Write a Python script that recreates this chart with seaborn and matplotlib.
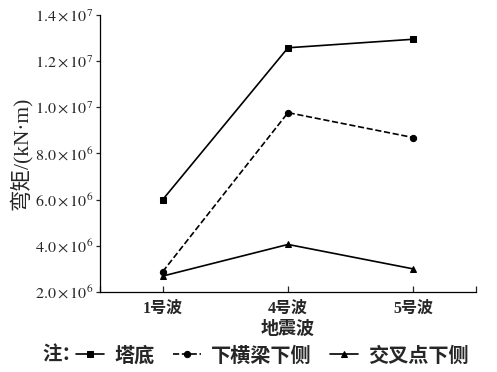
import matplotlib
matplotlib.use("Agg")
import matplotlib.pyplot as plt
import seaborn as sns
import pandas as pd

categories = ["1号波", "4号波", "5号波"]
series_names = ["塔底", "下横梁下侧", "交叉点下侧"]
tadi = [6.0e6, 1.258e7, 1.295e7]
xiahengliang = [2.88e6, 9.77e6, 8.69e6]
jiaochadian = [2.69e6, 4.06e6, 3.0e6]
yticks = [2e6, 4e6, 6e6, 8e6, 1.0e7, 1.2e7, 1.4e7]
ytick_labels = [r"$2.0\times10^{6}$", r"$4.0\times10^{6}$", r"$6.0\times10^{6}$",
                r"$8.0\times10^{6}$", r"$1.0\times10^{7}$", r"$1.2\times10^{7}$",
                r"$1.4\times10^{7}$"]

sns.set_style("ticks")
plt.rcParams["font.family"] = ["Noto Sans CJK SC", "DejaVu Sans"]
plt.rcParams["mathtext.fontset"] = "stix"

fig = plt.figure(figsize=(4.97, 3.72), dpi=100)
ax = fig.add_axes([100/497, 1-292/372, 376/497, 277/372])

values = [tadi, xiahengliang, jiaochadian]
markers = ["s", "o", "^"]
dashes = ["-", "--", "-"]
for name, vals, m, ls in zip(series_names, values, markers, dashes):
    df = pd.DataFrame({"x": list(range(len(categories))), "y": vals})
    sns.lineplot(data=df, x="x", y="y", ax=ax, color="black", marker=m,
                 linestyle=ls, linewidth=1.2, markersize=4.5,
                 markeredgecolor="black", label=name, legend=False)

lines = ax.get_lines()

ax.set_xlim(-0.5, 2.5)
ax.set_ylim(2e6, 1.4e7)
ax.set_xticks([-0.5, 0, 1, 2, 2.5])
ax.set_xticklabels([""] + categories + [""], fontsize=11.5, fontweight="bold",
                   family=["Liberation Serif", "Noto Sans CJK SC"])
ax.set_yticks(yticks)
ax.set_yticklabels(ytick_labels, fontsize=11.5)
ax.tick_params(axis="x", direction="in", length=4, width=0.9, pad=6)
ax.tick_params(axis="y", direction="out", length=3, width=0.9, pad=2)
for s in ["top", "right"]:
    ax.spines[s].set_visible(False)
for s in ["left", "bottom"]:
    ax.spines[s].set_linewidth(0.9)
    ax.spines[s].set_color("black")

ax.set_xlabel("地震波", fontsize=13, fontweight="bold", labelpad=2)
ax.set_ylabel("弯矩/(kN·m)", fontsize=15.5, labelpad=2,
              family=["Liberation Serif", "Noto Sans CJK SC"])

fig.text(42/497, 1-355/372, "注：", fontsize=14, fontweight="bold", va="center", ha="left")
fig.legend(lines, series_names, loc="center left", bbox_to_anchor=(76/497, 1-355/372),
           ncol=3, frameon=False, prop={"size": 14.5, "weight": "bold"},
           handlelength=1.4, handletextpad=0.5,
           columnspacing=0.9, borderaxespad=0, borderpad=0)

fig.savefig("out.png", dpi=100)
